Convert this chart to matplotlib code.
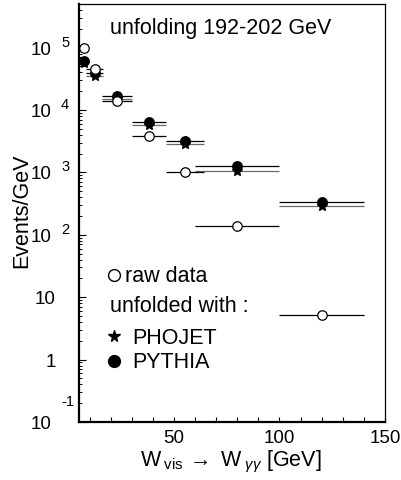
import matplotlib
matplotlib.use('Agg')
import matplotlib.pyplot as plt
import matplotlib.transforms as mtransforms
import numpy as np

plt.rcParams['font.family'] = ['Liberation Sans', 'DejaVu Sans']
plt.rcParams['mathtext.fontset'] = 'custom'
plt.rcParams['mathtext.rm'] = 'Liberation Sans'
plt.rcParams['mathtext.it'] = 'Liberation Sans:italic'
plt.rcParams['mathtext.bf'] = 'Liberation Sans:bold'

# bins in W (GeV): centres and half widths
w_centre = [7.5, 12.5, 23, 38, 55, 80, 120]
w_halfwidth = [0, 4, 7, 8, 9, 20, 20]

# events / GeV
raw_data = [1.0e5, 4.6e4, 1.4e4, 3.85e3, 1.0e3, 139, 5.1]
pythia = [6.2e4, 3.9e4, 1.7e4, 6.5e3, 3.2e3, 1.25e3, 340]
phojet = [5.6e4, 3.5e4, 1.5e4, 5.8e3, 2.9e3, 1.05e3, 285]

x_ticks = [50, 100, 150]
x_minor = list(range(10, 150, 10))
y_exponents = [-1, 0, 1, 2, 3, 4, 5]

fs_tick = 13.5   # tick labels
fs = 15.5        # other texts

fig = plt.figure(figsize=(4.01, 4.80), dpi=100)
ax = fig.add_axes([79 / 401, 58 / 480, 306 / 401, 418 / 480])

# unfolded with PHOJET (grey bars, stars)
ax.errorbar(w_centre, phojet, xerr=w_halfwidth, fmt='*', ms=7, mfc='black', mec='black',
            ecolor='#6a6a6a', elinewidth=0.9, capsize=0, zorder=3)
# unfolded with PYTHIA (black bars, filled circles)
ax.errorbar(w_centre, pythia, xerr=w_halfwidth, fmt='o', ms=6.8, mfc='black', mec='black',
            ecolor='black', elinewidth=0.9, capsize=0, zorder=4)
# raw data (open circles)
ax.errorbar(w_centre, raw_data, xerr=w_halfwidth, fmt='o', ms=6.8, mfc='white', mec='black',
            mew=0.9, ecolor='black', elinewidth=0.9, capsize=0, zorder=5)

ax.set_yscale('log')
ax.set_xlim(5, 150)
ax.set_ylim(0.1, 5e5)

ax.set_xticks(x_ticks)
ax.set_xticks(x_minor, minor=True)
ax.set_xticklabels([str(t) for t in x_ticks], fontsize=fs_tick)
ax.tick_params(axis='x', which='both', direction='in', length=3.5, width=0.8, pad=6,
               top=False)

ax.set_yticks([10.0 ** e for e in y_exponents])
ax.yaxis.set_minor_locator(matplotlib.ticker.LogLocator(base=10, subs=np.arange(2, 10)))
ax.yaxis.set_minor_formatter(matplotlib.ticker.NullFormatter())
ax.set_yticklabels([])
ax.tick_params(axis='y', which='major', direction='in', length=5, width=0.8, right=False)
ax.tick_params(axis='y', which='minor', direction='in', length=2.5, width=0.7, right=False)

for side in ['left', 'bottom']:
    ax.spines[side].set_linewidth(1.6)
for side in ['top', 'right']:
    ax.spines[side].set_linewidth(0.9)

# y tick labels in the 10^n style of the original
trans = mtransforms.blended_transform_factory(fig.transFigure, ax.transData)
for e in y_exponents:
    base_tr = mtransforms.offset_copy(trans, fig=fig, y=-7, units='dots')
    if e in (0, 1):
        ax.text(56 / 401, 10.0 ** e, str(10 ** e), transform=base_tr, ha='right',
                va='baseline', fontsize=fs_tick)
    else:
        ax.text(52 / 401, 10.0 ** e, '10', transform=base_tr, ha='right',
                va='baseline', fontsize=fs_tick)
        raise_px = 16 if e < 0 else 1
        sup_tr = mtransforms.offset_copy(trans, fig=fig, y=raise_px, units='dots')
        ax.text(61 / 401, 10.0 ** e, str(e), transform=sup_tr, ha='left',
                va='baseline', fontsize=10.5)

fig.text(22 / 401, 1 - 211 / 480, 'Events/GeV', rotation=90, ha='center', va='center',
         fontsize=fs)
fig.text(231 / 401, 1 - 462 / 480,
         r'W$_{\;\mathrm{vis}}\,\rightarrow$ W$_{\;\gamma\gamma}$ [GeV]',
         ha='center', va='center', fontsize=fs)

ax.text(0.101, 0.942, 'unfolding 192-202 GeV', transform=ax.transAxes, ha='left',
        va='center', fontsize=fs)
ax.text(0.101, 0.2775, 'unfolded with :', transform=ax.transAxes, ha='left',
        va='center', fontsize=fs)

h_raw = plt.Line2D([], [], ls='none', marker='o', ms=8.5, mfc='white', mec='black', mew=1)
leg1 = ax.legend([h_raw], ['raw data'], loc='center left', bbox_to_anchor=(0.085, 0.347),
                 frameon=False, fontsize=fs, borderpad=0, borderaxespad=0,
                 handlelength=0.8, handletextpad=0.14)
ax.add_artist(leg1)

h_pho = plt.Line2D([], [], ls='none', marker='*', ms=8.5, mfc='black', mec='black')
h_pyt = plt.Line2D([], [], ls='none', marker='o', ms=8.5, mfc='black', mec='black')
ax.legend([h_pho, h_pyt], ['PHOJET', 'PYTHIA'], loc='center left',
          bbox_to_anchor=(0.085, 0.171), frameon=False, fontsize=fs, borderpad=0,
          borderaxespad=0, handlelength=0.8, handletextpad=0.45, labelspacing=0.15)

plt.savefig('out.png', dpi=100)
